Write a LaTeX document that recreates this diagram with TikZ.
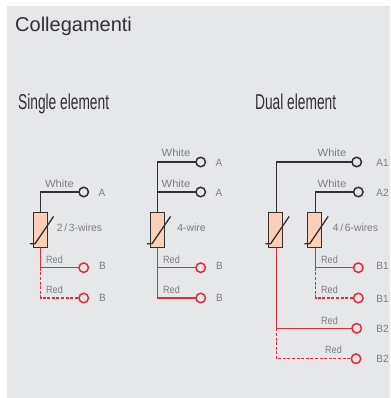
\documentclass[tikz,border=0pt]{standalone}
\usepackage{fontspec}
\setmainfont{Liberation Sans}
\definecolor{panel}{RGB}{230,231,233}
\definecolor{wirek}{RGB}{50,48,50}
\definecolor{wirer}{RGB}{238,40,54}
\definecolor{body}{RGB}{252,208,184}
\definecolor{lab}{RGB}{125,125,128}
\tikzset{
  x=1pt,y=-1pt,
  res/.style={draw=wirek,fill=body,line width=1.3pt,minimum width=14pt,minimum height=35.5pt,inner sep=0pt,outer sep=0pt},
  term/.style={circle,draw,fill=panel,line width=1.5pt,minimum size=9.5pt,inner sep=0pt,outer sep=0pt},
  kterm/.style={term,draw=wirek},
  rterm/.style={term,draw=wirer},
  kwire/.style={draw=wirek,line width=1.4pt},
  rwire/.style={draw=wirer,line width=1.5pt},
  rdash/.style={rwire,dash pattern=on 3pt off 1.6pt},
  lblbase/.style={text=lab,font=\fontsize{10.5}{11}\selectfont,inner sep=0pt,anchor=base},
  lbl/.style={lblbase,xscale=.86},
  wlbl/.style={lblbase,xscale=1.07},
  tlbl/.style={lblbase,xscale=.98},
  plbl/.style={lblbase,xscale=.95},
  slash/.style={draw=wirek,line width=1.3pt},
  head/.style={anchor=base west,inner sep=0pt,text=wirek,xscale=.64,font=\fontsize{21.5}{23}\selectfont},
}
\newcommand{\resslash}[1]{%
  \draw[slash] ([shift={(-10.4,13.8)}]#1.center) -- ([shift={(-5.2,13.8)}]#1.center) -- ([shift={(13.4,-13.6)}]#1.center);}
\begin{document}
\begin{tikzpicture}
\useasboundingbox (0,0) rectangle (390,398);
\fill[white] (0,0) rectangle (390,398);
\fill[panel] (7,6) rectangle (390,398);
\node[anchor=base west,inner sep=0pt,text=wirek,font=\fontsize{20}{22}\selectfont] (title) at (15,31.5) {Collegamenti};
\node[head] (single) at (18,110) {Single element};
\node[head] (dual) at (255,110) {Dual element};

% single, 2/3 wires
\node[res] (r1) at (40.2,230) {};
\node[kterm] (a1) at (83.7,192) {};
\node[rterm] (b1) at (83.7,267.7) {};
\node[rterm] (b1d) at (83.7,298) {};
\coordinate (j1) at (40.7,267.7);
\draw[kwire] (r1.north -| j1) |- (a1);
\draw[rwire] (r1.south -| j1) -- (j1) -- (b1);
\draw[rdash] (j1) |- (b1d);
\resslash{r1}
\node[wlbl] at (59.5,187) {White};
\node[lbl] at (54.5,263) {Red};
\node[lbl] at (54.5,293) {Red};
\node[plbl] at (102,196) {A};
\node[plbl] at (102.5,269.5) {B};
\node[plbl] at (102.5,301.5) {B};
\node[tlbl] at (79.5,231) {2\,/\,3-wires};

% single, 4 wire
\node[res] (r2) at (157.2,230) {};
\node[kterm] (a2) at (200.7,162) {};
\node[kterm] (a2b) at (200.7,192) {};
\node[rterm] (b2) at (200.7,267.7) {};
\node[rterm] (b2b) at (200.7,298) {};
\coordinate (j2) at (157.7,192);
\coordinate (j2r) at (157.7,267.7);
\draw[kwire] (r2.north -| j2) -- (j2) |- (a2);
\draw[kwire] (j2) -- (a2b);
\draw[rwire] (r2.south -| j2r) -- (j2r) |- (b2b);
\draw[rwire] (j2r) -- (b2);
\resslash{r2}
\node[wlbl] at (176,157) {White};
\node[wlbl] at (176,187) {White};
\node[lbl] at (171.5,263) {Red};
\node[lbl] at (171.5,293) {Red};
\node[plbl] at (219,166) {A};
\node[plbl] at (219,196) {A};
\node[plbl] at (219.5,269.5) {B};
\node[plbl] at (219.5,301.5) {B};
\node[tlbl] at (191.5,231) {4-wire};

% dual
\node[res] (r3) at (275.8,230) {};
\node[res] (r4) at (314.8,230) {};
\node[kterm] (a3) at (356.7,162) {};
\node[kterm] (a4) at (358.3,192) {};
\node[rterm] (b3) at (358.3,267.7) {};
\node[rterm] (b3d) at (358.3,298) {};
\node[rterm] (b4) at (356.7,328.3) {};
\node[rterm] (b4d) at (356,358.7) {};
\coordinate (j3) at (276.3,328.3);
\coordinate (j4) at (315.7,267.7);
\draw[kwire] (r3.north -| j3) |- (a3);
\draw[kwire] (r4.north -| j4) |- (a4);
\draw[rwire] (r3.south -| j3) -- (j3) -- (b4);
\draw[rdash] (j3) |- (b4d);
\draw[rwire] (r4.south -| j4) -- (j4) -- (b3);
\draw[rdash] (j4) |- (b3d);
\resslash{r3}
\resslash{r4}
\node[wlbl] at (332,157) {White};
\node[wlbl] at (332,187) {White};
\node[lbl] at (329.5,263) {Red};
\node[lbl] at (329.5,293) {Red};
\node[lbl] at (329.5,324) {Red};
\node[lbl] at (333.5,353) {Red};
\node[plbl] at (382.5,166) {A1};
\node[plbl] at (382.5,196) {A2};
\node[plbl] at (382.5,269.5) {B1};
\node[plbl] at (382.5,302.5) {B1};
\node[plbl] at (382.5,332.5) {B2};
\node[plbl] at (382.5,362.5) {B2};
\node[tlbl] at (355.5,231) {4\,/\,6-wires};
\end{tikzpicture}
\end{document}
